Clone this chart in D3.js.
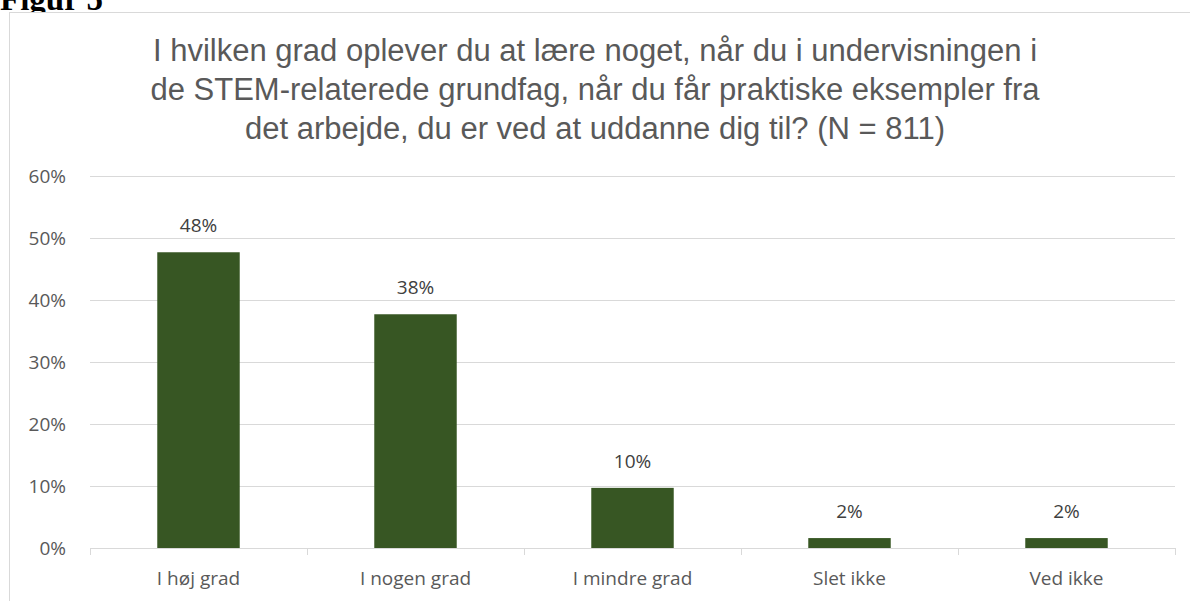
<!DOCTYPE html>
<html>
  <head>
    <meta http-equiv="Content-Type" content="text/html;charset=utf-8"/>
    <script type="text/javascript" src="https://cdn.jsdelivr.net/npm/d3@7"></script>
    <style type="text/css">
      body { margin: 0; background: #fff; }
      text { font-family: "Open Sans", "Noto Sans", sans-serif; }
      .title { font-family: "Liberation Sans", Arial, sans-serif; fill: #595959; font-size: 31px; }
      .fig { font-family: "Liberation Serif", "Times New Roman", serif; font-weight: bold; font-size: 33px; fill: #000; }
      .tick text { fill: #595959; font-size: 19px; }
      .lbl { fill: #404040; font-size: 19px; }
    </style>
  </head>
  <body>
    <svg id="con"></svg>
    <script type="text/javascript">

    var categories = ["I høj grad", "I nogen grad", "I mindre grad", "Slet ikke", "Ved ikke"];
    var values = [47.7, 37.7, 9.7, 1.6, 1.6];
    var labels = ["48%", "38%", "10%", "2%", "2%"];
    var yTicks = [0, 10, 20, 30, 40, 50, 60];
    var titleLines = [
      "I hvilken grad oplever du at lære noget, når du i undervisningen i",
      "de STEM-relaterede grundfag, når du får praktiske eksempler fra",
      "det arbejde, du er ved at uddanne dig til? (N = 811)"
    ];

    var W = 1190, H = 601;
    var svg = d3.select("#con").attr("width", W).attr("height", H);

    svg.append("text").attr("class", "fig").attr("x", 0).attr("y", 10).text("Figur 5");

    // chart frame, runs off the right and bottom edge
    svg.append("rect")
        .attr("x", 9.5).attr("y", 12.5)
        .attr("width", 1200).attr("height", 700)
        .attr("fill", "#fff").attr("stroke", "#d9d9d9");

    svg.selectAll(".title").data(titleLines).enter().append("text")
        .attr("class", "title")
        .attr("x", 595).attr("y", function(d, i) { return 61 + i * 39; })
        .attr("text-anchor", "middle")
        .text(function(d) { return d; });

    var x = d3.scaleBand().domain(categories).range([90, 1175]).paddingInner(0.62).paddingOuter(0.31);
    var y = d3.scaleLinear().domain([0, 60]).range([548, 176]);

    // grid + y labels
    var ya = svg.append("g").attr("transform", "translate(90,0)")
        .call(d3.axisLeft(y).tickValues(yTicks).tickFormat(function(d) { return d + "%"; }).tickSize(0).tickPadding(24));
    ya.select(".domain").remove();
    ya.selectAll(".tick line").attr("x2", 1085).attr("stroke", "#d9d9d9");
    ya.selectAll(".tick").filter(function(d) { return d === 0; }).select("line").remove();

    // bars
    svg.selectAll(".bar").data(values).enter().append("rect")
        .attr("class", "bar")
        .attr("x", function(d, i) { return x(categories[i]); })
        .attr("y", function(d) { return y(d); })
        .attr("width", x.bandwidth())
        .attr("height", function(d) { return y(0) - y(d); })
        .attr("fill", "#375623");

    svg.selectAll(".lbl").data(values).enter().append("text")
        .attr("class", "lbl")
        .attr("x", function(d, i) { return x(categories[i]) + x.bandwidth() / 2; })
        .attr("y", function(d) { return y(d) - 20; })
        .attr("text-anchor", "middle")
        .text(function(d, i) { return labels[i]; });

    // x axis
    var xa = svg.append("g").attr("transform", "translate(0,548)")
        .call(d3.axisBottom(x).tickSize(0).tickPadding(24));
    xa.select(".domain").attr("stroke", "#d9d9d9").attr("d", "M90.5,0.5H1175.5");
    var step = x.step();
    xa.selectAll(".sep").data(d3.range(categories.length + 1)).enter().append("line")
        .attr("x1", function(i) { return Math.round(90 + i * step) + 0.5; })
        .attr("x2", function(i) { return Math.round(90 + i * step) + 0.5; })
        .attr("y1", 0).attr("y2", 7)
        .attr("stroke", "#d9d9d9");

    </script>
  </body>
</html>
